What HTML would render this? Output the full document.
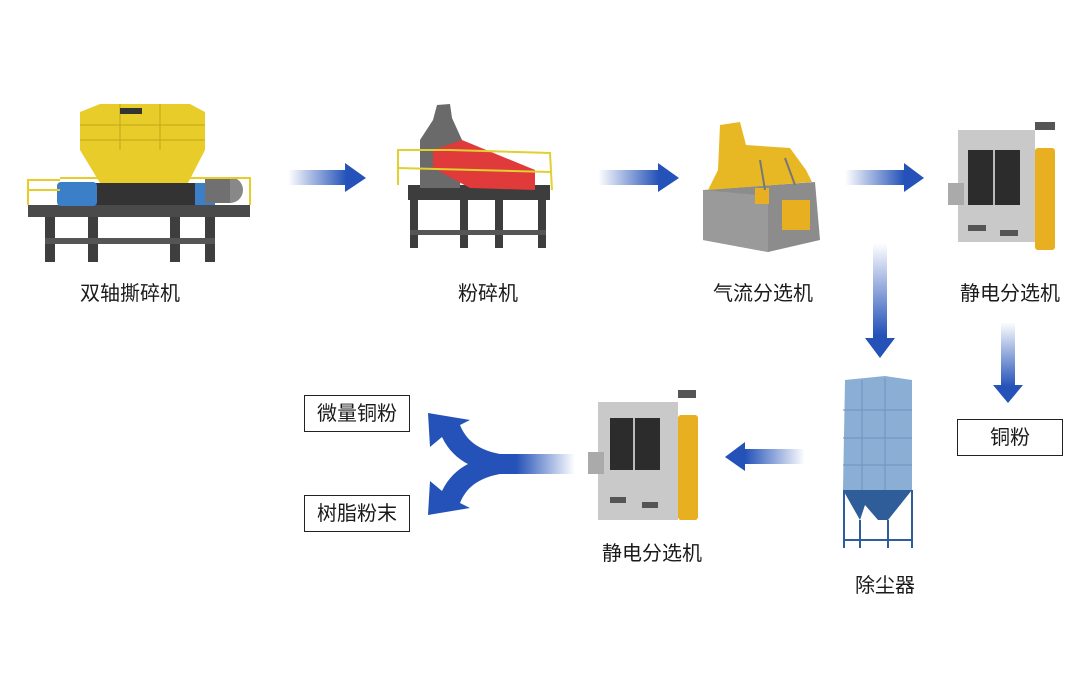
<!DOCTYPE html>
<html><head><meta charset="utf-8"><style>
html,body{margin:0;padding:0;background:#fff;}
svg{display:block}
text{font-family:"Liberation Sans","Noto Sans CJK SC",sans-serif;fill:#1a1a1a;}
</style></head><body>
<svg width="1086" height="698" viewBox="0 0 1086 698" xmlns="http://www.w3.org/2000/svg">
<defs>
<linearGradient id="gr" x1="0" x2="1" y1="0" y2="0"><stop offset="0" stop-color="#2452b8" stop-opacity="0"/><stop offset="0.75" stop-color="#2452b8"/></linearGradient>
<linearGradient id="gl" x1="1" x2="0" y1="0" y2="0"><stop offset="0" stop-color="#2452b8" stop-opacity="0"/><stop offset="0.75" stop-color="#2452b8"/></linearGradient>
<linearGradient id="gd" x1="0" x2="0" y1="0" y2="1"><stop offset="0" stop-color="#2452b8" stop-opacity="0"/><stop offset="0.8" stop-color="#2452b8"/></linearGradient>
<linearGradient id="gs" x1="1" x2="0" y1="0" y2="0"><stop offset="0" stop-color="#2452b8" stop-opacity="0"/><stop offset="0.4" stop-color="#2452b8"/></linearGradient>
</defs>

<!-- Shredder -->
<g>
<rect x="28" y="205" width="222" height="12" fill="#4a4a4a"/>
<rect x="45" y="217" width="10" height="45" fill="#3e3e3e"/><rect x="88" y="217" width="10" height="45" fill="#3e3e3e"/>
<rect x="170" y="217" width="10" height="45" fill="#3e3e3e"/><rect x="205" y="217" width="10" height="45" fill="#3e3e3e"/>
<rect x="45" y="238" width="170" height="6" fill="#555"/>
<polygon points="80,112 100,104 190,104 205,112 205,150 188,183 100,183 80,150" fill="#e8cc2a"/>
<g stroke="#c0a618" stroke-width="1"><line x1="80" y1="125" x2="205" y2="125"/><line x1="80" y1="140" x2="205" y2="140"/><line x1="120" y1="104" x2="120" y2="150"/><line x1="160" y1="104" x2="160" y2="150"/></g>
<rect x="120" y="108" width="22" height="6" fill="#333"/>
<rect x="95" y="183" width="105" height="22" fill="#333"/>
<rect x="57" y="182" width="40" height="24" rx="4" fill="#3a7fc8"/>
<rect x="195" y="183" width="20" height="22" fill="#3a7fc8"/>
<circle cx="230" cy="190" r="13" fill="#888"/><rect x="205" y="178" width="25" height="25" fill="#707070"/>
<g stroke="#e8cc2a" stroke-width="2" fill="none"><polyline points="28,205 28,180 60,180"/><line x1="60" y1="178" x2="200" y2="178"/><polyline points="200,178 250,178 250,205"/><line x1="28" y1="190" x2="60" y2="190"/></g>
</g>

<!-- Crusher -->
<g>
<rect x="408" y="185" width="142" height="15" fill="#3d3d3d"/>
<rect x="410" y="200" width="8" height="48" fill="#3d3d3d"/><rect x="460" y="200" width="8" height="48" fill="#3d3d3d"/>
<rect x="495" y="200" width="8" height="48" fill="#3d3d3d"/><rect x="538" y="200" width="8" height="48" fill="#3d3d3d"/>
<rect x="410" y="230" width="136" height="5" fill="#555"/>
<polygon points="437,105 450,104 452,118 462,140 460,188 420,188 420,140 433,120" fill="#6a6a6a"/>
<polygon points="433,150 462,140 535,170 535,190 470,188 433,168" fill="#e03a3a"/>
<g stroke="#e0d030" stroke-width="2" fill="none"><polyline points="398,185 398,150 450,150 550,153 552,190"/><line x1="398" y1="168" x2="550" y2="172"/></g>
</g>

<!-- Air separator -->
<g>
<polygon points="703,190 815,182 820,240 768,252 703,240" fill="#8c8c8c"/>
<polygon points="703,190 768,196 768,252 703,240" fill="#9a9a9a"/>
<rect x="782" y="200" width="28" height="30" fill="#e8b020"/><rect x="755" y="188" width="14" height="16" fill="#e8b020"/>
<polygon points="720,125 740,122 746,145 790,148 806,170 812,182 708,190 718,170" fill="#e8b824"/>
<line x1="760" y1="160" x2="765" y2="190" stroke="#777" stroke-width="2"/><line x1="785" y1="158" x2="795" y2="185" stroke="#777" stroke-width="2"/>
</g>

<!-- Electrostatic 1 -->
<g>
<rect x="958" y="130" width="77" height="112" fill="#c9c9c9"/>
<rect x="968" y="150" width="52" height="55" fill="#2c2c2c"/>
<line x1="994" y1="150" x2="994" y2="205" stroke="#bbb" stroke-width="2"/>
<rect x="948" y="183" width="16" height="22" fill="#aaa"/>
<rect x="1035" y="148" width="20" height="102" rx="3" fill="#e8b020"/>
<rect x="968" y="225" width="18" height="6" fill="#555"/><rect x="1000" y="230" width="18" height="6" fill="#555"/>
<rect x="1035" y="122" width="20" height="8" fill="#555"/>
</g>

<!-- Dust collector -->
<g>
<polygon points="845,380 885,376 912,380 912,490 843,490" fill="#8aaed4"/>
<g stroke="#6e93bd" stroke-width="1"><line x1="843" y1="410" x2="912" y2="410"/><line x1="843" y1="438" x2="912" y2="438"/><line x1="843" y1="465" x2="912" y2="465"/><line x1="862" y1="380" x2="862" y2="490"/><line x1="885" y1="378" x2="885" y2="490"/></g>
<polygon points="843,490 912,490 888,520 878,520 865,505 860,520" fill="#2e5d9a"/>
<g stroke="#2e5d9a" stroke-width="2"><line x1="844" y1="490" x2="844" y2="548"/><line x1="912" y1="490" x2="912" y2="548"/><line x1="860" y1="520" x2="860" y2="548"/><line x1="888" y1="520" x2="888" y2="548"/><line x1="844" y1="540" x2="912" y2="540"/></g>
</g>

<!-- Electrostatic 2 -->
<g>
<rect x="598" y="402" width="80" height="118" fill="#c9c9c9"/>
<rect x="610" y="418" width="50" height="52" fill="#2c2c2c"/>
<line x1="634" y1="418" x2="634" y2="470" stroke="#bbb" stroke-width="2"/>
<rect x="588" y="452" width="16" height="22" fill="#aaa"/>
<rect x="678" y="415" width="20" height="105" rx="3" fill="#e8b020"/>
<rect x="610" y="497" width="16" height="6" fill="#555"/><rect x="642" y="502" width="16" height="6" fill="#555"/>
<rect x="678" y="390" width="18" height="8" fill="#555"/>
</g>

<!-- Arrows -->
<polygon points="288,170 345,170 345,163 366,178 345,192 345,185 288,185" fill="url(#gr)"/>
<polygon points="598,170 658,170 658,163 679,178 658,192 658,185 598,185" fill="url(#gr)"/>
<polygon points="845,170 904,170 904,163 924,178 904,192 904,185 845,185" fill="url(#gr)"/>
<polygon points="873,243 887,243 887,338 895,338 880,358 865,338 873,338" fill="url(#gd)"/>
<polygon points="1001,322 1015,322 1015,385 1023,385 1008,403 993,385 1001,385" fill="url(#gd)"/>
<polygon points="805,449 745,449 745,442 725,457 745,471 745,464 805,464" fill="url(#gl)"/>
<path d="M575,454 L500,454 C478,450 466,440 460,425 L470,420 L428,413 L430,447 L442,437 C448,450 458,459 468,464 C458,469 448,478 442,491 L430,481 L428,515 L470,508 L460,503 C466,488 478,478 500,474 L575,474 Z" fill="url(#gs)"/>

<!-- Boxes -->
<rect x="304.5" y="395.5" width="105" height="36" fill="#fff" stroke="#222"/>
<rect x="304.5" y="495.5" width="105" height="36" fill="#fff" stroke="#222"/>
<rect x="957.5" y="419.5" width="105" height="36" fill="#fff" stroke="#222"/>

<!-- Labels -->
<g font-size="20" text-anchor="middle">
<text x="130" y="300">双轴撕碎机</text>
<text x="488" y="300">粉碎机</text>
<text x="763" y="300">气流分选机</text>
<text x="1010" y="300">静电分选机</text>
<text x="652" y="560">静电分选机</text>
<text x="885" y="592">除尘器</text>
<text x="357" y="420">微量铜粉</text>
<text x="357" y="520">树脂粉末</text>
<text x="1010" y="444">铜粉</text>
</g>
</svg>
</body></html>
